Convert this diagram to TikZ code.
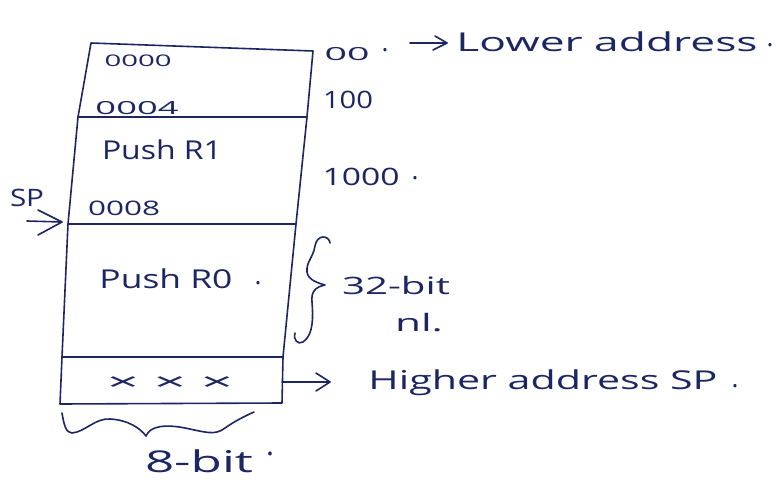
\documentclass[tikz,border=0pt]{standalone}
\usepackage{fontspec}
\setmainfont{Open Sans}
\usepackage{graphicx}
\definecolor{ink}{RGB}{28,38,98}
\newcommand{\fitw}[2]{\resizebox{#1}{\height}{#2}}
\begin{document}
\begin{tikzpicture}[x=1pt,y=-1pt,
  hw/.style={text=ink, inner sep=0pt, outer sep=0pt, anchor=center},
  fs/.style={font=\fontsize{#1}{#1}\selectfont},
  inkline/.style={draw=ink, line width=1.6pt, line cap=round, line join=round}]
\useasboundingbox (0,0) rectangle (776,487);
% box outline corners and edge points
\coordinate (L1) at (91,43);
\coordinate (L2) at (78,117);
\coordinate (L3) at (68,224);
\coordinate (L4) at (62,357);
\coordinate (L5) at (60,404);
\coordinate (R1) at (313,51);
\coordinate (R2) at (307,117);
\coordinate (R3) at (296,224);
\coordinate (R4) at (283,357);
\coordinate (R5) at (282,403);
\coordinate (RH) at (282,382);
\draw[inkline] (L1) -- (L2) -- (L3) -- (L4) -- (L5) -- (R5) -- (R4) -- (R3) -- (R2) -- (R1) -- cycle;
\draw[inkline] (L2) -- (R2);
\draw[inkline] (L3) -- (R3);
\draw[inkline] (L4) -- (R4);
% texts inside the box
\node[hw, fs=16] (a0) at (138,61) {\fitw{67pt}{0000}};
\node[hw, fs=18] (a4) at (137,108) {\fitw{83pt}{0004}};
\node[hw, fs=26] (pr1) at (162,150) {\fitw{120pt}{Push R1}};
\node[hw, fs=20] (a8) at (124,208) {\fitw{72pt}{0008}};
\node[hw, fs=26] (pr0) at (166,279) {\fitw{133pt}{Push R0}};
\node[hw, fs=26] (pr0d) at (258,283) {.};
\node[hw, fs=24] (xs) at (170,384) {\fitw{126pt}{× × ×}};
% SP pointer
\node[hw, fs=24] (sp) at (27,198) {\fitw{34pt}{SP}};
\coordinate (spa) at (27,221);
\coordinate (spb) at (62,222);
\draw[inkline] (spa) -- (spb) ++(-24,-12) -- (spb) -- ++(-24,13);
% right side labels
\node[hw, fs=18] (z00) at (347,54) {\fitw{45pt}{00}};
\node[hw, fs=26] (z00d) at (385,50) {.};
\coordinate (la1) at (410,43);
\coordinate (la2) at (447,43);
\draw[inkline] (la1) -- (la2) ++(-12,-7) -- (la2) -- ++(-14,7);
\node[hw, fs=26] (low) at (607,42) {\fitw{301pt}{Lower address}};
\node[hw, fs=26] (lowd) at (770,45) {.};
\node[hw, fs=24] (h100) at (348,100) {\fitw{50pt}{100}};
\node[hw, fs=24] (h1000) at (361,177) {\fitw{77pt}{1000}};
\node[hw, fs=26] (h1000d) at (415,178) {.};
% right brace
\draw[inkline] (330,243) .. controls (329,235) and (317,234) .. (315,246)
  .. controls (313,258) and (306,262) .. (307,272)
  .. controls (308,280) and (318,283) .. (325,285)
  .. controls (315,287) and (311,292) .. (312,302)
  .. controls (313,315) and (314,335) .. (303,342)
  .. controls (298,345) and (293,340) .. (295,333);
\node[hw, fs=24] (b32) at (396,285) {\fitw{108pt}{32-bit}};
\node[hw, fs=24] (nl) at (419,323) {\fitw{48pt}{nl.}};
% higher address
\coordinate (ha2) at (330,382);
\draw[inkline] (RH) -- (ha2) ++(-14,-9) -- (ha2) -- ++(-14,9);
\node[hw, fs=26] (high) at (543,383) {\fitw{349pt}{Higher address SP}};
\node[hw, fs=26] (highd) at (735,386) {.};
% bottom brace
\draw[inkline] (62,413) .. controls (64,425) and (66,433) .. (72,433)
  .. controls (85,432) and (95,418) .. (110,419)
  .. controls (128,420) and (140,428) .. (146,436)
  .. controls (150,426) and (165,424) .. (185,428)
  .. controls (205,432) and (215,436) .. (225,428)
  .. controls (235,421) and (245,416) .. (254,412);
\node[hw, fs=30] (b8) at (199,461) {\fitw{108pt}{8-bit}};
\node[hw, fs=30] (b8d) at (270,454) {.};
\end{tikzpicture}
\end{document}
